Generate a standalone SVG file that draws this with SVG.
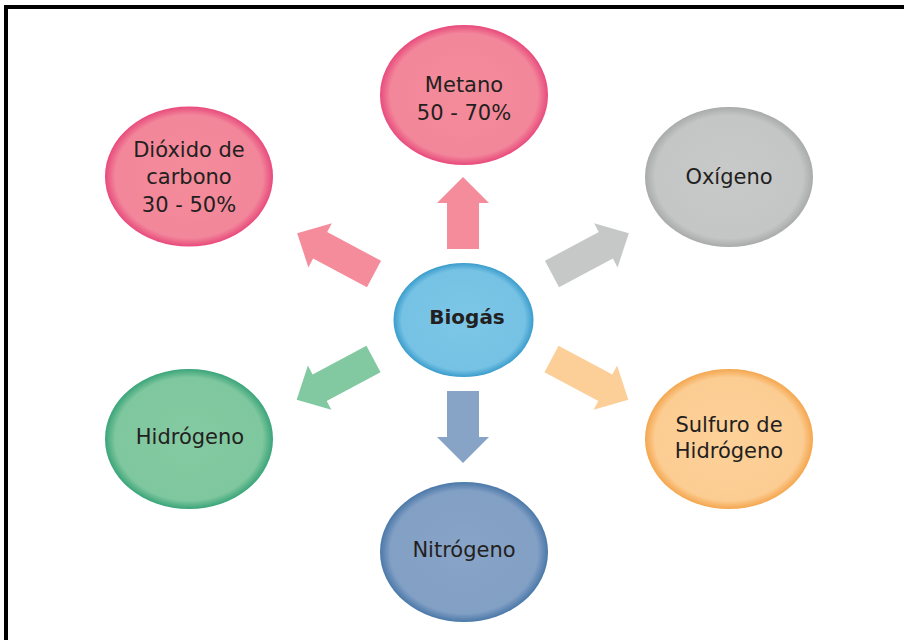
<svg xmlns="http://www.w3.org/2000/svg" width="904" height="640" viewBox="0 0 904 640">
  <defs>
    <radialGradient id="gPink" cx="50%" cy="50%" r="50%">
      <stop offset="0" stop-color="#f48c9a"/>
      <stop offset="0.88" stop-color="#f2869a"/>
      <stop offset="1" stop-color="#e84a7c"/>
    </radialGradient>
    <radialGradient id="gGray" cx="50%" cy="50%" r="50%">
      <stop offset="0" stop-color="#c8c9c9"/>
      <stop offset="0.88" stop-color="#c4c5c5"/>
      <stop offset="1" stop-color="#a9aaaa"/>
    </radialGradient>
    <radialGradient id="gBlue" cx="50%" cy="50%" r="50%">
      <stop offset="0" stop-color="#7cc7e8"/>
      <stop offset="0.88" stop-color="#76c2e4"/>
      <stop offset="1" stop-color="#3a9ccc"/>
    </radialGradient>
    <radialGradient id="gGreen" cx="50%" cy="50%" r="50%">
      <stop offset="0" stop-color="#84caa2"/>
      <stop offset="0.88" stop-color="#7fc79e"/>
      <stop offset="1" stop-color="#3aa479"/>
    </radialGradient>
    <radialGradient id="gOrange" cx="50%" cy="50%" r="50%">
      <stop offset="0" stop-color="#fdd199"/>
      <stop offset="0.88" stop-color="#fccd93"/>
      <stop offset="1" stop-color="#f4a64e"/>
    </radialGradient>
    <radialGradient id="gSlate" cx="50%" cy="50%" r="50%">
      <stop offset="0" stop-color="#88a4c8"/>
      <stop offset="0.88" stop-color="#829fc4"/>
      <stop offset="1" stop-color="#4a78a8"/>
    </radialGradient>
    <polygon id="arrowH" points="0,-15 61,-15 61,-25 87,0 61,25 61,15 0,15"/>
  </defs>
  <style>
    .lbl { font-family: "DejaVu Sans", "Open Sans", sans-serif; font-size: 21px; fill: #231f20; text-anchor: middle; }
    .bold { font-weight: bold; font-size: 20px; }
  </style>
  <rect x="0" y="0" width="904" height="640" fill="#ffffff"/>
  <rect x="6" y="7" width="1000" height="1000" fill="none" stroke="#000000" stroke-width="4"/>

  <g id="connectors">
    <polygon points="447,249 447,203 437,203 463,177 489,203 479,203 479,249" fill="#f48c9b"/>
    <polygon points="447,391 447,437 437,437 463,463 489,437 479,437 479,391" fill="#87a3c6"/>
    <use href="#arrowH" transform="translate(552,274) rotate(-28)" fill="#c6c7c7"/>
    <use href="#arrowH" transform="translate(551.5,359) rotate(28)" fill="#fccf98"/>
    <use href="#arrowH" transform="translate(374,274) rotate(-152)" fill="#f48c9b"/>
    <use href="#arrowH" transform="translate(373.5,359) rotate(152)" fill="#82c9a2"/>
  </g>

  <g id="metano">
    <ellipse cx="464" cy="95" rx="84" ry="70" fill="url(#gPink)"/>
    <text class="lbl" x="464" y="92">Metano</text>
    <text class="lbl" x="464" y="120">50 - 70%</text>
  </g>
  <g id="dioxido">
    <ellipse cx="189" cy="176.5" rx="84" ry="70" fill="url(#gPink)"/>
    <text class="lbl" x="189" y="157">Dióxido de</text>
    <text class="lbl" x="189" y="184">carbono</text>
    <text class="lbl" x="189" y="212">30 - 50%</text>
  </g>
  <g id="oxigeno">
    <ellipse cx="729" cy="177" rx="84" ry="70" fill="url(#gGray)"/>
    <text class="lbl" x="729" y="184">Oxígeno</text>
  </g>
  <g id="biogas">
    <ellipse cx="463.5" cy="320" rx="70" ry="57" fill="url(#gBlue)"/>
    <text class="lbl bold" x="467" y="324">Biogás</text>
  </g>
  <g id="hidrogeno">
    <ellipse cx="189" cy="439" rx="84" ry="70" fill="url(#gGreen)"/>
    <text class="lbl" x="190" y="444">Hidrógeno</text>
  </g>
  <g id="sulfuro">
    <ellipse cx="729" cy="439" rx="84" ry="70" fill="url(#gOrange)"/>
    <text class="lbl" x="729" y="432">Sulfuro de</text>
    <text class="lbl" x="729" y="458">Hidrógeno</text>
  </g>
  <g id="nitrogeno">
    <ellipse cx="464" cy="552" rx="84" ry="70" fill="url(#gSlate)"/>
    <text class="lbl" x="464" y="557">Nitrógeno</text>
  </g>
</svg>
